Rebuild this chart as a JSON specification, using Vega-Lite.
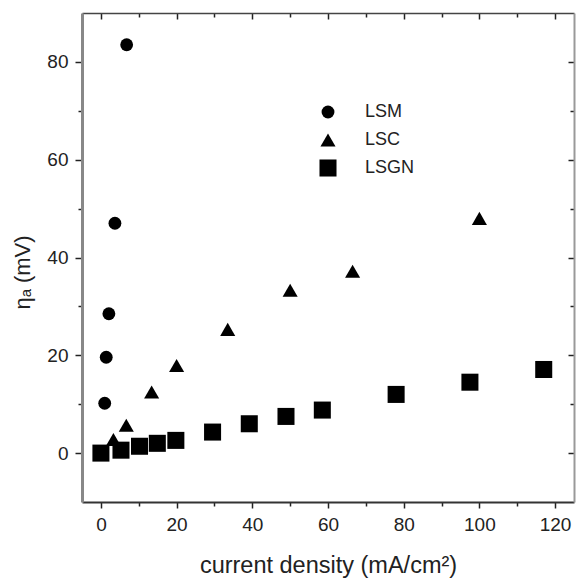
{
  "$schema": "https://vega.github.io/schema/vega-lite/v6.json",
  "autosize": "none",
  "width": 492,
  "height": 489,
  "padding": {"left": 82, "top": 13, "right": 2, "bottom": 78},
  "background": "white",
  "config": {
    "view": {"stroke": null},
    "font": "Liberation Sans",
    "axis": {"grid": false, "labelFont": "Liberation Sans", "titleFont": "Liberation Sans", "labelColor": "#222", "titleColor": "#222", "tickColor": "#222", "titleFontWeight": "normal"}
  },
  "data": {
    "values": [
      {"sample": "LSM", "j": 1.0, "eta": 10.2},
      {"sample": "LSM", "j": 1.4, "eta": 19.6},
      {"sample": "LSM", "j": 2.1, "eta": 28.5},
      {"sample": "LSM", "j": 3.7, "eta": 47.0},
      {"sample": "LSM", "j": 6.8, "eta": 83.5},
      {"sample": "LSC", "j": 3.3, "eta": 2.8},
      {"sample": "LSC", "j": 6.7, "eta": 5.7},
      {"sample": "LSC", "j": 13.4, "eta": 12.5},
      {"sample": "LSC", "j": 20.0, "eta": 17.9},
      {"sample": "LSC", "j": 33.5, "eta": 25.3},
      {"sample": "LSC", "j": 50.0, "eta": 33.3},
      {"sample": "LSC", "j": 66.5, "eta": 37.2},
      {"sample": "LSC", "j": 100.0, "eta": 48.0},
      {"sample": "LSGN", "j": 0.0, "eta": 0.0},
      {"sample": "LSGN", "j": 5.3, "eta": 0.6},
      {"sample": "LSGN", "j": 10.2, "eta": 1.4},
      {"sample": "LSGN", "j": 14.9, "eta": 2.0},
      {"sample": "LSGN", "j": 19.8, "eta": 2.6},
      {"sample": "LSGN", "j": 29.5, "eta": 4.3},
      {"sample": "LSGN", "j": 39.2, "eta": 6.0},
      {"sample": "LSGN", "j": 48.9, "eta": 7.5},
      {"sample": "LSGN", "j": 58.5, "eta": 8.8},
      {"sample": "LSGN", "j": 78.0, "eta": 12.0},
      {"sample": "LSGN", "j": 97.5, "eta": 14.5},
      {"sample": "LSGN", "j": 117.0, "eta": 17.1}
    ]
  },
  "layer": [
    {
      "mark": {"type": "point", "filled": true, "opacity": 1, "color": "black"},
      "encoding": {
        "x": {
          "field": "j", "type": "quantitative",
          "scale": {"domain": [-5, 125], "nice": false, "zero": false},
          "axis": {
            "orient": "bottom",
            "title": "current density (mA/cm²)",
            "titleFontSize": 23.5,
            "titlePadding": 19,
            "values": [0, 10, 20, 30, 40, 50, 60, 70, 80, 90, 100, 110, 120],
            "labelExpr": "datum.value % 20 === 0 ? datum.label : ''",
            "labelFontSize": 19,
            "labelPadding": 7,
            "tickSize": {"condition": {"test": "datum.value % 20 === 0", "value": 6}, "value": 4},
            "tickWidth": 1.5,
            "domainColor": "#333",
            "domainWidth": 2
          }
        },
        "y": {
          "field": "eta", "type": "quantitative",
          "scale": {"domain": [-10, 90], "nice": false, "zero": false},
          "axis": {
            "orient": "left",
            "title": "ηₐ (mV)",
            "titleFontSize": 22,
            "titlePadding": 12,
            "titleY": 259,
            "values": [0, 10, 20, 30, 40, 50, 60, 70, 80],
            "labelExpr": "datum.value % 20 === 0 ? datum.label : ''",
            "labelFontSize": 19,
            "labelPadding": 7,
            "tickSize": {"condition": {"test": "datum.value % 20 === 0", "value": 7}, "value": 4},
            "tickWidth": 1.5,
            "domainColor": "#888",
            "domainWidth": 3
          }
        },
        "shape": {
          "field": "sample", "type": "nominal",
          "scale": {"domain": ["LSM", "LSC", "LSGN"], "range": ["circle", "triangle-up", "square"]},
          "legend": {
            "orient": "none",
            "legendX": 237,
            "legendY": 90,
            "title": null,
            "padding": 0,
            "symbolFillColor": "black",
            "symbolStrokeColor": "black",
            "symbolStrokeWidth": 0,
            "labelFontSize": 18,
            "labelFont": "Liberation Sans",
            "labelColor": "#222",
            "labelOffset": 28,
            "rowPadding": 10
          }
        },
        "size": {
          "field": "sample", "type": "nominal",
          "scale": {"domain": ["LSM", "LSC", "LSGN"], "range": [165, 290, 150]},
          "legend": {
            "orient": "none",
            "legendX": 237,
            "legendY": 90,
            "title": null,
            "padding": 0,
            "symbolFillColor": "black",
            "symbolStrokeColor": "black",
            "symbolStrokeWidth": 0,
            "labelFontSize": 18,
            "labelFont": "Liberation Sans",
            "labelColor": "#222",
            "labelOffset": 28,
            "rowPadding": 10
          }
        }
      }
    },
    {
      "mark": {"type": "point", "opacity": 0},
      "encoding": {
        "x": {
          "field": "j", "type": "quantitative",
          "axis": {
            "orient": "top",
            "title": null,
            "values": [0, 10, 20, 30, 40, 50, 60, 70, 80, 90, 100, 110, 120],
            "labels": false,
            "tickSize": {"condition": {"test": "datum.value % 20 === 0", "value": -6}, "value": -4},
            "tickWidth": 1.5,
            "domainColor": "#444",
            "domainWidth": 1.5
          }
        },
        "y": {
          "field": "eta", "type": "quantitative",
          "axis": {
            "orient": "right",
            "title": null,
            "values": [0, 10, 20, 30, 40, 50, 60, 70, 80],
            "labels": false,
            "tickSize": {"condition": {"test": "datum.value % 20 === 0", "value": -6}, "value": -4},
            "tickWidth": 1.5,
            "domainColor": "#999",
            "domainWidth": 2
          }
        }
      }
    }
  ],
  "resolve": {"axis": {"x": "independent", "y": "independent"}}
}
